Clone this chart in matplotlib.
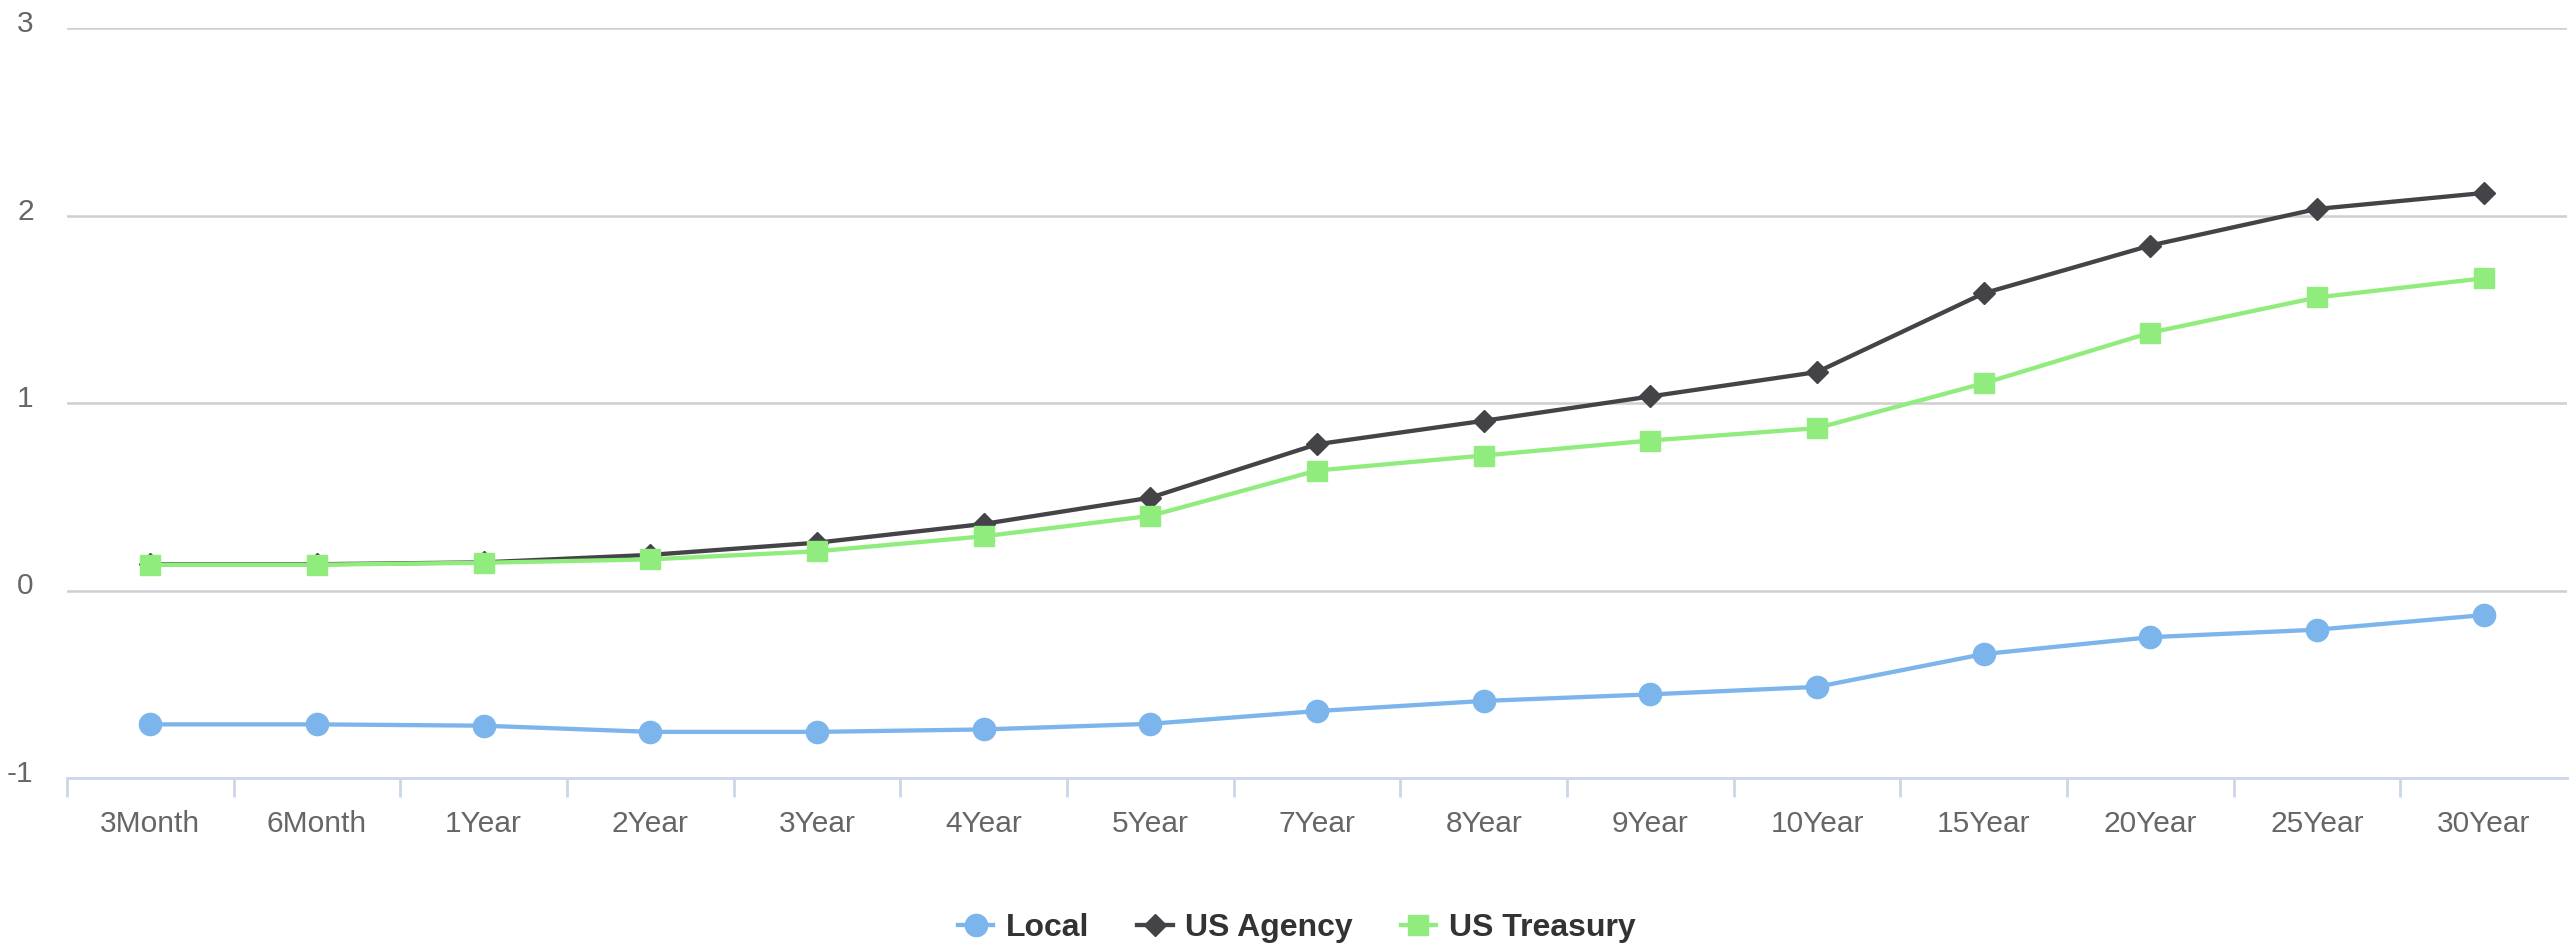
import matplotlib
matplotlib.use("Agg")
import matplotlib.pyplot as plt
import matplotlib.transforms as mtransforms
from matplotlib.lines import Line2D
import numpy as np

categories = ["3Month", "6Month", "1Year", "2Year", "3Year", "4Year", "5Year", "7Year",
              "8Year", "9Year", "10Year", "15Year", "20Year", "25Year", "30Year"]
local = [-0.714, -0.714, -0.721, -0.754, -0.754, -0.741, -0.711, -0.643,
         -0.589, -0.554, -0.514, -0.339, -0.249, -0.209, -0.131]
us_agency = [0.14, 0.14, 0.15, 0.19, 0.255, 0.355, 0.495, 0.78,
             0.905, 1.035, 1.165, 1.585, 1.84, 2.035, 2.12]
us_treasury = [0.1375, 0.1375, 0.148, 0.166, 0.209, 0.289, 0.398, 0.64,
               0.72, 0.80, 0.866, 1.105, 1.375, 1.563, 1.665]
y_ticks = [-1, 0, 1, 2, 3]

plt.rcParams['font.family'] = ['Liberation Sans', 'DejaVu Sans']

W, H, DPI = 2573, 943, 100
fig = plt.figure(figsize=(W / DPI, H / DPI), dpi=DPI)
ax = fig.add_axes([67 / W, 1 - 778 / H, (2567 - 67) / W, (778 - 28) / H])

LW = 3.1
x = np.arange(len(categories))
ax.plot(x, local, color='#7cb5ec', lw=LW, marker='o', ms=16, mec='#7cb5ec', zorder=3, label='Local')
ax.plot(x, us_agency, color='#434348', lw=LW, marker='D', ms=11, mec='#434348', zorder=4, label='US Agency')
ax.plot(x, us_treasury, color='#90ed7d', lw=LW, marker='s', ms=15, mec='#90ed7d', zorder=5, label='US Treasury')

ax.set_xlim(-0.5, len(categories) - 0.5)
ax.set_ylim(-1, 3)

for v in y_ticks[1:]:
    ax.axhline(v, color='#cfcfcf', lw=1.8, zorder=1)

for s in ['top', 'right', 'left']:
    ax.spines[s].set_visible(False)
ax.spines['bottom'].set_color('#ccd6eb')
ax.spines['bottom'].set_linewidth(2.0)
ax.spines['bottom'].set_zorder(2)

ax.set_xticks(x)
ax.set_xticklabels(categories)
ax.set_xticks(np.arange(-0.5, len(categories) - 1, 1.0), minor=True)
ax.tick_params(axis='x', which='major', length=0, pad=23, labelsize=21.5, labelcolor='#666666')
ax.tick_params(axis='x', which='minor', length=14, width=2.0, color='#ccd6eb')

ax.set_yticks(y_ticks)
ax.set_yticklabels([str(v) for v in y_ticks])
ax.tick_params(axis='y', length=0, pad=24, labelsize=21.5, labelcolor='#666666')
offset = mtransforms.ScaledTranslation(0, 7 / DPI, fig.dpi_scale_trans)
for lab in ax.get_yticklabels():
    lab.set_transform(lab.get_transform() + offset)

handles = [
    Line2D([], [], color='#7cb5ec', lw=LW, marker='o', ms=16, mec='#7cb5ec'),
    Line2D([], [], color='#434348', lw=LW, marker='D', ms=11, mec='#434348'),
    Line2D([], [], color='#90ed7d', lw=LW, marker='s', ms=15, mec='#90ed7d'),
]
leg = fig.legend(handles, ['Local', 'US Agency', 'US Treasury'], loc='center',
                 bbox_to_anchor=(0.504, 15 / H), ncol=3, frameon=False,
                 prop={'size': 23, 'weight': 'bold'}, handlelength=1.1,
                 handletextpad=0.4, columnspacing=1.5)
for t in leg.get_texts():
    t.set_color('#333333')

fig.savefig('out.png', dpi=DPI)
